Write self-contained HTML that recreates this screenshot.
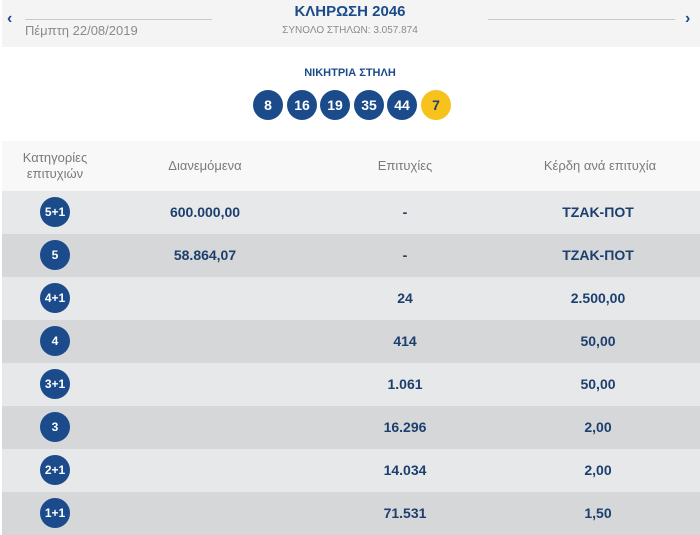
<!DOCTYPE html>
<html><head><meta charset="utf-8"><style>
body{margin:0;width:700px;height:534px;overflow:hidden;background:#fff;font-family:"Liberation Sans","DejaVu Sans",sans-serif;position:relative}
.abs{position:absolute}
#hdr{left:2px;top:0;width:698px;height:47px;background:#f4f4f4}
.line{height:1px;background:#c8c8c8;top:19px}
.ball{position:absolute;width:30px;height:30px;border-radius:50%;background:#1b4b8a;color:#fff;font-weight:bold;font-size:14px;text-align:center;line-height:30px;top:90px}
.row{position:absolute;left:2px;width:698px;height:43px}
.cell{position:absolute;top:0;height:43px;line-height:43px;text-align:center;color:#1c3f6e;font-weight:bold;font-size:14px;transform:translateX(-50%);white-space:nowrap}
.cat{position:absolute;width:30px;height:30px;border-radius:50%;background:#1b4b8a;color:#fff;font-weight:bold;font-size:12px;line-height:30px;text-align:center;left:38px;top:6px}
.th{position:absolute;color:#7a7a7a;font-size:13px;text-align:center;transform:translateX(-50%);white-space:nowrap}
</style></head><body>
<div id="hdr" class="abs"></div>
<div class="abs" style="left:7px;top:10px;color:#1b4b8a;font-size:16px;font-weight:bold">‹</div>
<div class="abs" style="left:685px;top:10px;color:#1b4b8a;font-size:16px;font-weight:bold">›</div>
<div class="abs line" style="left:25px;width:187px"></div>
<div class="abs line" style="left:488px;width:187px"></div>
<div class="abs" style="left:25px;top:23px;color:#8a8a8a;font-size:13px">Πέμπτη 22/08/2019</div>
<div class="abs" style="left:0;width:700px;text-align:center;top:3px;color:#1b4b8a;font-weight:bold;font-size:15px">ΚΛΗΡΩΣΗ 2046</div>
<div class="abs" style="left:0;width:700px;text-align:center;top:25px;color:#8a8a8a;font-size:10px">ΣΥΝΟΛΟ ΣΤΗΛΩΝ: 3.057.874</div>
<div class="abs" style="left:0;width:700px;text-align:center;top:67px;color:#1b4b8a;font-weight:bold;font-size:11px">ΝΙΚΗΤΡΙΑ ΣΤΗΛΗ</div>
<div class="ball" style="left:253px">8</div>
<div class="ball" style="left:287px">16</div>
<div class="ball" style="left:320px">19</div>
<div class="ball" style="left:354px">35</div>
<div class="ball" style="left:387px">44</div>
<div class="ball" style="left:421px;background:#f8c21c;color:#1c3f6e">7</div>
<div class="abs" style="left:2px;top:141px;width:698px;height:50px;background:#f8f8f8">
<div class="th" style="left:53px;top:9px;line-height:16px">Κατηγορίες<br>επιτυχιών</div>
<div class="th" style="left:203px;top:17px">Διανεμόμενα</div>
<div class="th" style="left:403px;top:17px">Επιτυχίες</div>
<div class="th" style="left:598px;top:17px">Κέρδη ανά επιτυχία</div>
</div>
<div id="rows"></div>
<script>
const categories=["5+1","5","4+1","4","3+1","3","2+1","1+1"];
const distributed=["600.000,00","58.864,07","","","","","",""];
const winners=["-","-","24","414","1.061","16.296","14.034","71.531"];
const prizes=["ΤΖΑΚ-ΠΟΤ","ΤΖΑΚ-ΠΟΤ","2.500,00","50,00","50,00","2,00","2,00","1,50"];
const rowsEl=document.getElementById('rows');
categories.forEach((c,i)=>{
  const r=document.createElement('div');
  r.className='row';
  
  
  r.style.top=(191+i*43)+'px';
  r.style.background=i%2?'#d6d7d9':'#e7e8ea';
  const b=document.createElement('div');
  b.className='cat';
  
  
  b.textContent=c;
  r.appendChild(b);
  [[distributed[i],203,'distributed-value'],[winners[i],403,'winners-value'],[prizes[i],596,'prize-value']].forEach(v=>{
    const d=document.createElement('div');
    d.className='cell';
    
    
    d.style.left=v[1]+'px';
    d.textContent=v[0];
    r.appendChild(d);
  });
  rowsEl.appendChild(r);
});
</script>
</body></html>
